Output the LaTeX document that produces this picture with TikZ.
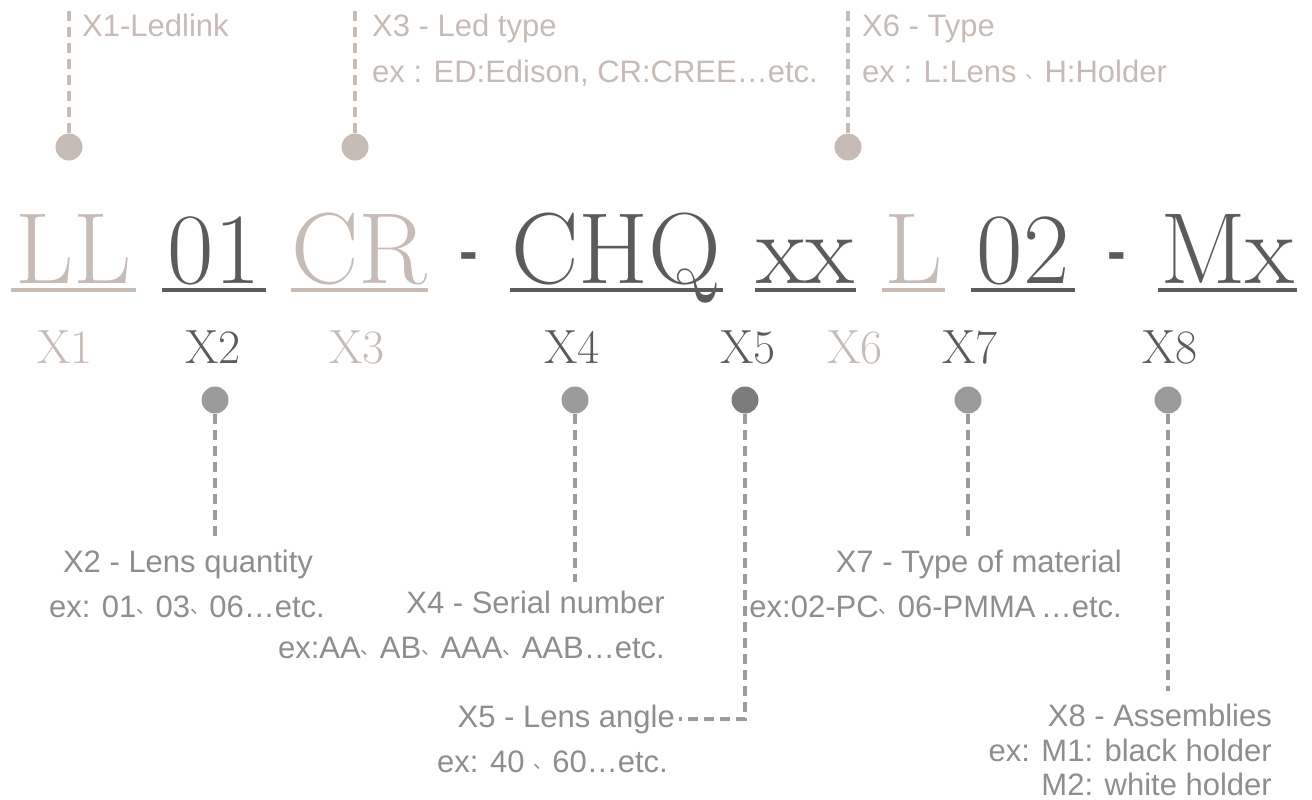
\documentclass[tikz,border=0pt]{standalone}
\usepackage{fontspec}
\newfontfamily\notefont{Liberation Sans}
\newfontfamily\cjk{Noto Sans CJK SC}
\definecolor{codelight}{HTML}{C7BCB5}
\definecolor{codedark}{HTML}{5A5C5B}
\definecolor{notegray}{HTML}{8E8E8E}
\definecolor{dotgray}{HTML}{9B9B9B}
\newcommand{\dun}{\makebox[0.62em][l]{\raisebox{4pt}{\cjk\fontsize{19}{19}\selectfont 、}}}
\tikzset{
    part/.style={font=\fontsize{101}{101}\selectfont, inner sep=0pt, anchor=base},
    uline/.style={line width=4pt},
    xlab/.style={font=\fontsize{48}{48}\selectfont, anchor=base},
    note/.style={font=\notefont\fontsize{31}{31}\selectfont, text=notegray, inner sep=0pt},
    topnote/.style={font=\notefont\fontsize{31}{31}\selectfont, text=codelight, inner sep=0pt, anchor=base west},
    dot/.style={circle, fill=#1, minimum size=27pt, inner sep=0pt},
    lead/.style={draw=#1, line width=3.5pt, dash pattern=on 10pt off 6pt}
}
\begin{document}
\begin{tikzpicture}[x=1pt,y=-1pt]
    \useasboundingbox (0,0) rectangle (1312,800);

    % code
    \node[part, text=codelight, minimum width=125pt] (LL) at (73.5,283) {LL};
    \node[part, text=codedark, minimum width=104pt] (c01) at (214,283) {01};
    \node[part, text=codelight, minimum width=135pt] (CR) at (359.5,283) {CR};
    \node[font=\notefont\bfseries\fontsize{56}{56}\selectfont, text=codedark, inner sep=0pt] (h1) at (469,262) {-};
    \node[part, text=codedark, minimum width=213pt] (CHQ) at (616.5,283) {CHQ};
    \node[part, text=codedark, minimum width=101pt] (xx) at (805.5,283) {xx};
    \node[part, text=codelight, minimum width=63pt] (L) at (913.5,283) {L};
    \node[part, text=codedark, minimum width=104pt] (c02) at (1023,283) {02};
    \node[font=\notefont\bfseries\fontsize{56}{56}\selectfont, text=codedark, inner sep=0pt] (h2) at (1117,262) {-};
    \node[part, text=codedark, minimum width=139pt] (Mx) at (1227.5,283) {Mx};

    \foreach \p/\c in {LL/codelight, c01/codedark, CR/codelight, CHQ/codedark, xx/codedark, L/codelight, c02/codedark, Mx/codedark}
        \draw[uline, \c] ([yshift=-7pt]\p.base west) -- ([yshift=-7pt]\p.base east);

    % labels
    \node[xlab, text=codelight] (x1) at (65,363) {X1};
    \node[xlab, text=codedark] (x2) at (213,363) {X2};
    \node[xlab, text=codelight] (x3) at (357,363) {X3};
    \node[xlab, text=codedark] (x4) at (572,363) {X4};
    \node[xlab, text=codedark] (x5) at (748,363) {X5};
    \node[xlab, text=codelight] (x6) at (855,363) {X6};
    \node[xlab, text=codedark] (x7) at (970,363) {X7};
    \node[xlab, text=codedark] (x8) at (1170,363) {X8};

    % top notes
    \node[dot=codelight] (d1) at (69,147) {};
    \node[dot=codelight] (d3) at (355,147) {};
    \node[dot=codelight] (d6) at (848,147) {};
    \node[topnote] (t1) at (82,37) {X1-Ledlink};
    \node[topnote] (t3) at (372,37) {X3 - Led type};
    \node[topnote] (e3) at (372,82) {ex : ED:Edison, CR:CREE\dots etc.};
    \node[topnote] (t6) at (862,37) {X6 - Type};
    \node[topnote] (e6) at (862,82) {ex : L:Lens \dun H:Holder};
    \draw[lead=codelight] (d1) -- ([yshift=7pt]d1 |- t1.north);
    \draw[lead=codelight] (d3) -- ([yshift=7pt]d3 |- t3.north);
    \draw[lead=codelight] (d6) -- ([yshift=7pt]d6 |- t6.north);

    % bottom notes
    \node[dot=dotgray] (d2) at (215,400) {};
    \node[dot=dotgray] (d4) at (575,400) {};
    \node[dot=dotgray!80!black] (d5) at (745,400) {};
    \node[dot=dotgray] (d7) at (968,400) {};
    \node[dot=dotgray] (d8) at (1168,400) {};

    \node[note, anchor=base] (t2) at (188,572) {X2 - Lens quantity};
    \node[note, anchor=base] (e2) at (187,617) {ex: 01\dun 03\dun 06\dots etc.};
    \node[note, anchor=base east] (t4) at (665,613) {X4 - Serial number};
    \node[note, anchor=base east] (e4) at (665,658) {ex:AA\dun AB\dun AAA\dun AAB\dots etc.};
    \node[note, anchor=base east] (t5) at (675,727) {X5 - Lens angle};
    \node[note, anchor=base east] (e5) at (668,772) {ex: 40 \dun 60\dots etc.};
    \node[note, anchor=base east] (t7) at (1122,572) {X7 - Type of material};
    \node[note, anchor=base east] (e7) at (1122,617) {ex:02-PC\dun 06-PMMA\,\dots etc.};
    \node[note, anchor=base east] (t8) at (1272,726) {X8 - Assemblies};
    \node[note, anchor=base east] (e8) at (1272,761) {ex: M1: black holder};
    \node[note, anchor=base east] (f8) at (1272,795) {M2: white holder};

    \draw[lead=dotgray] (d2) -- ([yshift=12pt]d2 |- t2.north);
    \draw[lead=dotgray] (d4) -- ([yshift=8pt]d4 |- t4.north);
    \draw[lead=dotgray] (d5) |- ([xshift=4pt]t5.east);
    \draw[lead=dotgray] (d7) -- ([yshift=12pt]d7 |- t7.north);
    \draw[lead=dotgray] (d8) -- ([yshift=12pt]d8 |- t8.north);
\end{tikzpicture}
\end{document}
